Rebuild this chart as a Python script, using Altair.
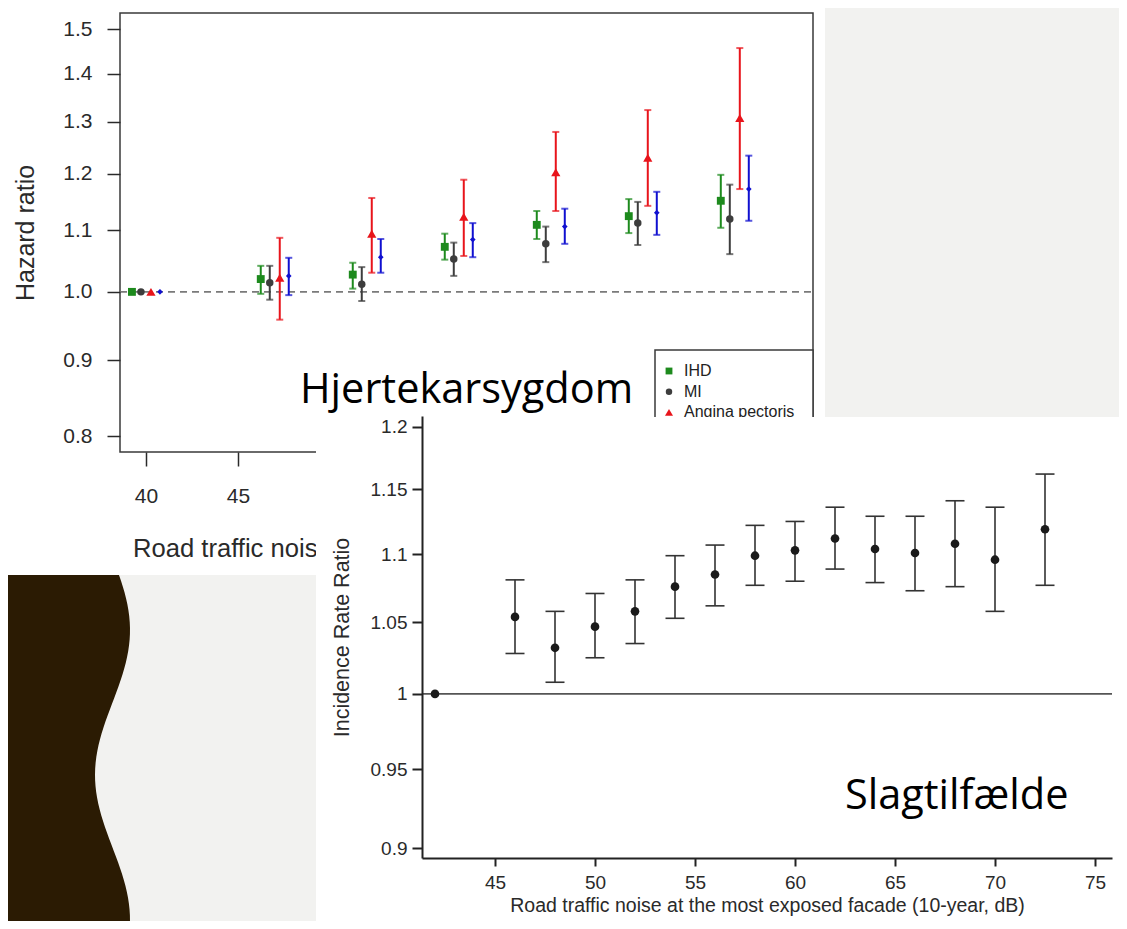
import altair as alt
import numpy as np
import pandas as pd

# ---------------- upper panel: hazard ratios by road traffic noise ----------------
NOISE_TOP = [40, 47, 52, 57, 62, 67, 72]
SERIES = ["IHD", "MI", "Angina pectoris", "Heart failure"]

HR_IHD = [1.000, 1.020, 1.027, 1.072, 1.109, 1.124, 1.151]
LO_IHD = [None, 0.997, 1.005, 1.051, 1.085, 1.095, 1.104]
HI_IHD = [None, 1.041, 1.046, 1.094, 1.133, 1.154, 1.198]

HR_MI = [1.000, 1.014, 1.012, 1.052, 1.077, 1.112, 1.119]
LO_MI = [None, 0.988, 0.986, 1.025, 1.047, 1.075, 1.060]
HI_MI = [None, 1.041, 1.039, 1.079, 1.106, 1.149, 1.180]

HR_AP = [1.000, 1.022, 1.094, 1.123, 1.203, 1.230, 1.308]
LO_AP = [None, 0.958, 1.030, 1.057, 1.133, 1.142, 1.172]
HI_AP = [None, 1.087, 1.156, 1.189, 1.280, 1.324, 1.457]

HR_HF = [1.000, 1.025, 1.055, 1.084, 1.106, 1.130, 1.172]
LO_HF = [None, 0.995, 1.030, 1.055, 1.077, 1.092, 1.116]
HI_HF = [None, 1.054, 1.085, 1.112, 1.137, 1.167, 1.234]

TOP_Y_TICKS = [0.8, 0.9, 1.0, 1.1, 1.2, 1.3, 1.4, 1.5]
TOP_X_TICKS = [40, 45]

# ---------------- lower panel: incidence rate ratio (stroke) ----------------
NOISE_BOT = [42, 46, 48, 50, 52, 54, 56, 58, 60, 62, 64, 66, 68, 70, 72.5]
IRR = [1.000, 1.054, 1.032, 1.047, 1.058, 1.076, 1.085, 1.099, 1.103, 1.112,
       1.104, 1.101, 1.108, 1.096, 1.119]
IRR_LO = [None, 1.028, 1.008, 1.025, 1.035, 1.053, 1.062, 1.077, 1.080, 1.089,
          1.079, 1.073, 1.076, 1.058, 1.077]
IRR_HI = [None, 1.081, 1.058, 1.071, 1.081, 1.099, 1.107, 1.122, 1.125, 1.136,
          1.129, 1.129, 1.141, 1.136, 1.162]
BOT_Y_TICKS = [0.9, 0.95, 1.0, 1.05, 1.1, 1.15, 1.2]
BOT_X_TICKS = [45, 50, 55, 60, 65, 70, 75]

# ---------------- layout / style ----------------
W, H = 1111, 913
M = 8  # page margin: page px = chart px + 8


def cx(p):
    return p - M


def cy(p):
    return p - M


BG = "#f2f2f0"
BROWN = "#2b1b03"
COLORS = ["#1d8a1d", "#3d3d3d", "#e8141b", "#1010d0"]
SHAPES = ["square", "circle", "triangle-up", "diamond"]
SIZES = [62, 56, 85, 32]
DODGE_PX = [-14, -5, 5, 14]
AX = "#2a2a2a"
FONT = "Liberation Sans"
TITLE_FONT = "Open Sans"

TOP_XD = [38.59, 76.25]
TOP_YD = [0.781, 1.538]
TOP_X = alt.Scale(domain=TOP_XD, range=[cx(120), cx(813)], nice=False, zero=False)
TOP_Y = alt.Scale(type="log", domain=TOP_YD, range=[cy(452), cy(13)], nice=False)
PX_PER_DB = (813 - 120) / (TOP_XD[1] - TOP_XD[0])

BOT_XD = [41.35, 75.85]
BOT_YD = [0.894, 1.209]
BOT_X = alt.Scale(domain=BOT_XD, range=[cx(422), cx(1112)], nice=False, zero=False)
BOT_Y = alt.Scale(type="log", domain=BOT_YD, range=[cy(858), cy(416)], nice=False)

# ---------------- tables ----------------
hr = [HR_IHD, HR_MI, HR_AP, HR_HF]
lo = [LO_IHD, LO_MI, LO_AP, LO_HF]
hi = [HI_IHD, HI_MI, HI_AP, HI_HF]
rows = []
for i, s in enumerate(SERIES):
    for j, n in enumerate(NOISE_TOP):
        rows.append({"series": s, "noise": n, "xpos": n + DODGE_PX[i] / PX_PER_DB,
                     "hr": hr[i][j], "lo": lo[i][j], "hi": hi[i][j]})
top_df = pd.DataFrame(rows)
top_ci = top_df.dropna()

bot_df = pd.DataFrame({"noise": NOISE_BOT, "irr": IRR, "lo": IRR_LO, "hi": IRR_HI})
bot_ci = bot_df.dropna()

one = pd.DataFrame({"k": [0]})
color_scale = alt.Scale(domain=SERIES, range=COLORS)

# ---------------- decoration: slide background ----------------
wy = np.linspace(cy(575), H, 60)
wx = 112.5 + 17.5 * np.cos(2 * np.pi * (wy + M - 630) / 290) - M
wave_df = pd.DataFrame({"wy": wy, "wx": wx, "x0": 0.0})
PIX_X = alt.Scale(domain=[0, W], range=[0, W], nice=False, zero=False)
PIX_Y = alt.Scale(domain=[0, H], range=[0, H], nice=False, zero=False)
wave = alt.Chart(wave_df).mark_area(orient="horizontal", color=BROWN).encode(
    y=alt.Y("wy:Q", scale=PIX_Y, axis=None),
    x=alt.X("wx:Q", scale=PIX_X, axis=None),
    x2="x0:Q",
)

top_panel = alt.Chart(one).mark_rect(color="white").encode(
    x=alt.value(0), x2=alt.value(cx(825)), y=alt.value(0), y2=alt.value(cy(575)))

bot_panel = alt.Chart(one).mark_rect(color="white").encode(
    x=alt.value(cx(316)), x2=alt.value(W), y=alt.value(cy(417)), y2=alt.value(H))

# ---------------- upper chart ----------------
frame_df = pd.DataFrame({"x0": [TOP_XD[0]], "x1": [TOP_XD[1]],
                         "y0": [TOP_YD[0]], "y1": [TOP_YD[1]]})
top_frame = alt.Chart(frame_df).mark_rect(
    fill="white", stroke="#3a3a3a", strokeWidth=1.5).encode(
    x=alt.X("x0:Q", scale=TOP_X,
            axis=alt.Axis(orient="bottom", offset=cy(452) - H, values=TOP_X_TICKS,
                          format="d", domain=False, grid=False, tickSize=14,
                          tickWidth=1.5, tickColor=AX, labelFont=FONT,
                          labelFontSize=21, labelColor=AX, labelPadding=19,
                          labelFlush=False, title=None, zindex=1)),
    x2="x1:Q",
    y=alt.Y("y0:Q", scale=TOP_Y,
            axis=alt.Axis(orient="left", offset=-cx(120), values=TOP_Y_TICKS,
                          format=".1f", domain=False, grid=False, tickSize=13,
                          tickWidth=1.5, tickColor=AX, labelFont=FONT,
                          labelFontSize=21, labelColor=AX, labelPadding=15,
                          labelFlush=False, title="Hazard ratio", titleFont=FONT,
                          titleFontSize=25, titleFontWeight="normal",
                          titleColor=AX, titlePadding=24, zindex=1)),
    y2="y1:Q",
)

top_ref = alt.Chart(frame_df.assign(ref=1.0)).mark_rule(
    color="#7a7a7a", strokeWidth=1.6, strokeDash=[7, 5]).encode(
    x=alt.X("x0:Q", scale=TOP_X, axis=None), x2="x1:Q",
    y=alt.Y("ref:Q", scale=TOP_Y, axis=None))

top_rules = alt.Chart(top_ci).mark_rule(strokeWidth=2).encode(
    x=alt.X("xpos:Q", scale=TOP_X, axis=None),
    y=alt.Y("lo:Q", scale=TOP_Y, axis=None), y2="hi:Q",
    color=alt.Color("series:N", scale=color_scale, legend=None))

top_caps = alt.Chart(top_ci).transform_fold(["lo", "hi"], as_=["end", "yv"]).mark_tick(
    orient="horizontal", size=7, thickness=2).encode(
    x=alt.X("xpos:Q", scale=TOP_X, axis=None),
    y=alt.Y("yv:Q", scale=TOP_Y, axis=None),
    color=alt.Color("series:N", scale=color_scale, legend=None))

top_points = []
for i, s in enumerate(SERIES):
    top_points.append(
        alt.Chart(top_df[top_df.series == s]).mark_point(
            shape=SHAPES[i], size=SIZES[i], filled=True, opacity=1,
            color=COLORS[i]).encode(
            x=alt.X("xpos:Q", scale=TOP_X, axis=None),
            y=alt.Y("hr:Q", scale=TOP_Y, axis=None)))

# legend (partly hidden under the lower chart, as on the slide)
leg_box = alt.Chart(one).mark_rect(fill="white", stroke="#3a3a3a", strokeWidth=1.5).encode(
    x=alt.value(cx(655)), x2=alt.value(cx(813)), y=alt.value(cy(350)), y2=alt.value(cy(470)))
LEG_Y = alt.Scale(type="point", domain=SERIES, range=[cy(371), cy(433)], padding=0)
leg_df = pd.DataFrame({"label": SERIES})
leg_pts = []
for i, s in enumerate(SERIES):
    leg_pts.append(
        alt.Chart(leg_df[leg_df.label == s]).mark_point(
            shape=SHAPES[i], size=SIZES[i] * 0.75, filled=True, opacity=1,
            color=COLORS[i]).encode(
            x=alt.value(cx(669)),
            y=alt.Y("label:N", scale=LEG_Y, axis=None)))
leg_text = alt.Chart(leg_df).mark_text(
    align="left", baseline="middle", font=FONT, fontSize=16, color="#222").encode(
    x=alt.value(cx(684)),
    y=alt.Y("label:N", scale=LEG_Y, axis=None),
    text="label:N")

# x-axis title of the upper chart: its end disappears under the lower chart
top_xtitle = alt.Chart(pd.DataFrame({"t": ["Road traffic noise"]})).mark_text(
    align="left", baseline="alphabetic", font=FONT, fontSize=25.6, color=AX).encode(
    x=alt.value(cx(133)), y=alt.value(cy(557)), text="t:N")

title1 = alt.Chart(pd.DataFrame({"t": ["Hjertekarsygdom"]})).mark_text(
    align="left", baseline="alphabetic", font=TITLE_FONT, fontSize=41.5, color="black").encode(
    x=alt.value(cx(300)), y=alt.value(cy(403)), text="t:N")

# ---------------- lower chart ----------------
bframe = pd.DataFrame({"x0": [BOT_XD[0]], "x1": [BOT_XD[1]], "ref": [1.0]})
bot_ref = alt.Chart(bframe).mark_rule(color="#555555", strokeWidth=1.6).encode(
    x=alt.X("x0:Q", scale=BOT_X, axis=None), x2="x1:Q",
    y=alt.Y("ref:Q", scale=BOT_Y, axis=None))

bot_rules = alt.Chart(bot_ci).mark_rule(color="#333333", strokeWidth=1.6).encode(
    x=alt.X("noise:Q", scale=BOT_X, axis=None),
    y=alt.Y("lo:Q", scale=BOT_Y, axis=None), y2="hi:Q")

bot_caps = alt.Chart(bot_ci).transform_fold(["lo", "hi"], as_=["end", "yv"]).mark_tick(
    orient="horizontal", size=19, thickness=1.6, color="#333333", opacity=1).encode(
    x=alt.X("noise:Q", scale=BOT_X, axis=None),
    y=alt.Y("yv:Q", scale=BOT_Y, axis=None))

bot_points = alt.Chart(bot_df).mark_circle(size=75, color="#1a1a1a", opacity=1).encode(
    x=alt.X("noise:Q", scale=BOT_X,
            axis=alt.Axis(orient="bottom", offset=cy(858) - H, values=BOT_X_TICKS,
                          format="d", domain=True, domainColor="#222",
                          domainWidth=2, grid=False, tickSize=8, tickWidth=2,
                          tickColor="#222", labelFont=FONT, labelFontSize=19,
                          labelColor="#2a2a2a", labelPadding=7, labelFlush=False,
                          title="Road traffic noise at the most exposed facade (10-year, dB)",
                          titleFont=FONT, titleFontSize=19.5, titleFontWeight="normal",
                          titleColor="#2a2a2a", titlePadding=4, zindex=1)),
    y=alt.Y("irr:Q", scale=BOT_Y,
            axis=alt.Axis(orient="left", offset=-cx(422), values=BOT_Y_TICKS,
                          format="~g", domain=True, domainColor="#222",
                          domainWidth=2, grid=False, tickSize=10, tickWidth=2,
                          tickColor="#222", labelFont=FONT, labelFontSize=19,
                          labelColor="#2a2a2a", labelPadding=5, labelFlush=False,
                          title="Incidence Rate Ratio", titleFont=FONT,
                          titleFontSize=21.5, titleFontWeight="normal",
                          titleColor="#2a2a2a", titlePadding=17, zindex=1)),
)

title2 = alt.Chart(pd.DataFrame({"t": ["Slagtilfælde"]})).mark_text(
    align="left", baseline="alphabetic", font=TITLE_FONT, fontSize=41.5, color="black").encode(
    x=alt.value(cx(845)), y=alt.value(cy(809)), text="t:N")

layers = ([wave, top_panel, top_frame, top_ref, top_rules, top_caps] + top_points
          + [leg_box] + leg_pts + [leg_text, top_xtitle, title1,
             bot_panel, bot_ref, bot_rules, bot_caps, bot_points, title2])

chart = alt.layer(*layers).resolve_scale(
    x="independent", y="independent", color="shared"
).properties(
    width=W, height=H, padding=0,
    autosize=alt.AutoSizeParams(type="none"),
    background=BG,
).configure_view(stroke=None)

chart.save("out.html", embed_options={"renderer": "svg", "actions": False})
